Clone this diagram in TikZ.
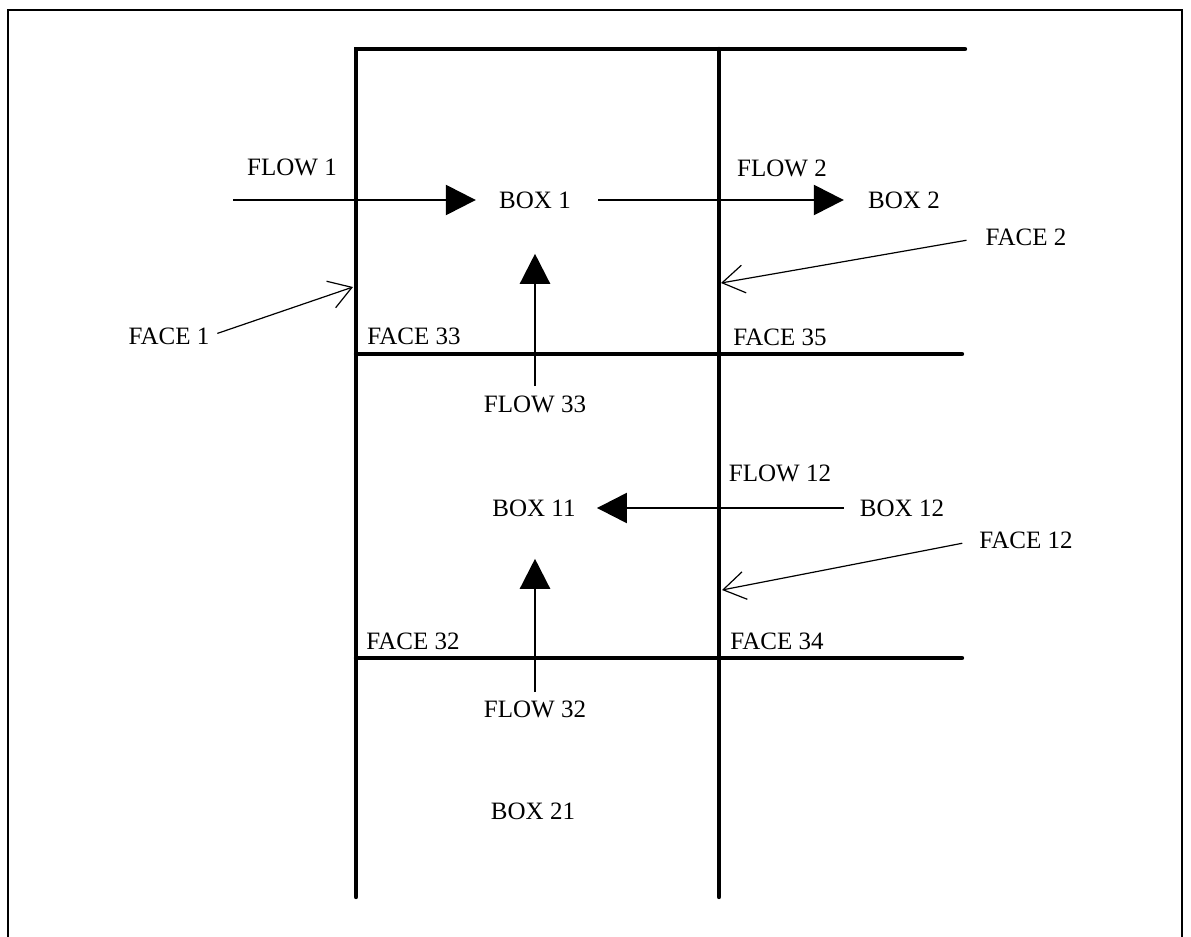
\documentclass[tikz,border=0pt]{standalone}
\usepackage{fontspec}
\setmainfont{Liberation Serif}
\usetikzlibrary{arrows.meta}

\begin{document}
\begin{tikzpicture}[x=0.5pt,y=-0.5pt,
	wall/.style={line width=2.2pt, line cap=round},
	flow/.style={line width=1.2pt, -{Triangle[length=15pt,width=15pt]}},
	lead/.style={line width=0.6pt, -{Straight Barb[length=11pt,width=14pt]}},
	lbl/.style={inner sep=0pt, font=\fontsize{12.5}{15}\selectfont}]
			\useasboundingbox (0,0) rectangle (1191,937);
			\draw[line width=1pt] (8,937) -- (8,10) -- (1182,10) -- (1182,937);
			
			% walls of the boxes
			\draw[wall] (356,897) -- (356,49) -- (965,49);
			\draw[wall] (719,49) -- (719,897);
			\draw[wall] (356,354) -- (962,354);
			\draw[wall] (356,658) -- (962,658);
			
			\node[lbl] (box1) at (535,200) {BOX 1};
			\node[lbl] (box2) at (904,200) {BOX 2};
			\node[lbl] (box11) at (534,508) {BOX 11};
			\node[lbl] (box12) at (902,508) {BOX 12};
			\node[lbl] (box21) at (533,811) {BOX 21};
			\node[lbl] (flow1) at (292,167) {FLOW 1};
			\node[lbl] (flow2) at (782,168) {FLOW 2};
			\node[lbl] (flow33) at (535,404) {FLOW 33};
			\node[lbl] (flow12) at (780,473) {FLOW 12};
			\node[lbl] (flow32) at (535,709) {FLOW 32};
			\node[lbl] (face1) at (169,336) {FACE 1};
			\node[lbl] (face2) at (1026,237) {FACE 2};
			\node[lbl] (face12) at (1026,540) {FACE 12};
			\node[lbl] (face33) at (414,336) {FACE 33};
			\node[lbl] (face35) at (780,337) {FACE 35};
			\node[lbl] (face32) at (413,641) {FACE 32};
			\node[lbl] (face34) at (777,641) {FACE 34};
			
			\coordinate (in1) at (233,200);
			\coordinate (hit1) at (353,287);
			\coordinate (hit2) at (721,283);
			\coordinate (hit12) at (722,590);
			
			% flows
			\draw[flow, shorten >=11.5pt] (in1) -- (box1);
			\draw[flow, shorten <=13.5pt, shorten >=12pt] (box1) -- (box2);
			\draw[flow, shorten <=8pt, shorten >=10.5pt] (box12) -- (box11);
			\draw[flow, shorten <=4.5pt, shorten >=22.5pt] (flow33) -- (box1);
			\draw[flow, shorten <=4pt, shorten >=21pt] (flow32) -- (flow32 |- box11.south);
			
			% faces
			\draw[lead, shorten <=4pt] (face1.east) -- (hit1);
			\draw[lead, shorten <=9.5pt] (face2.west) -- (hit2);
			\draw[lead, shorten <=8.5pt] (face12.west) -- (hit12);
			
		\end{tikzpicture}
\end{document}
